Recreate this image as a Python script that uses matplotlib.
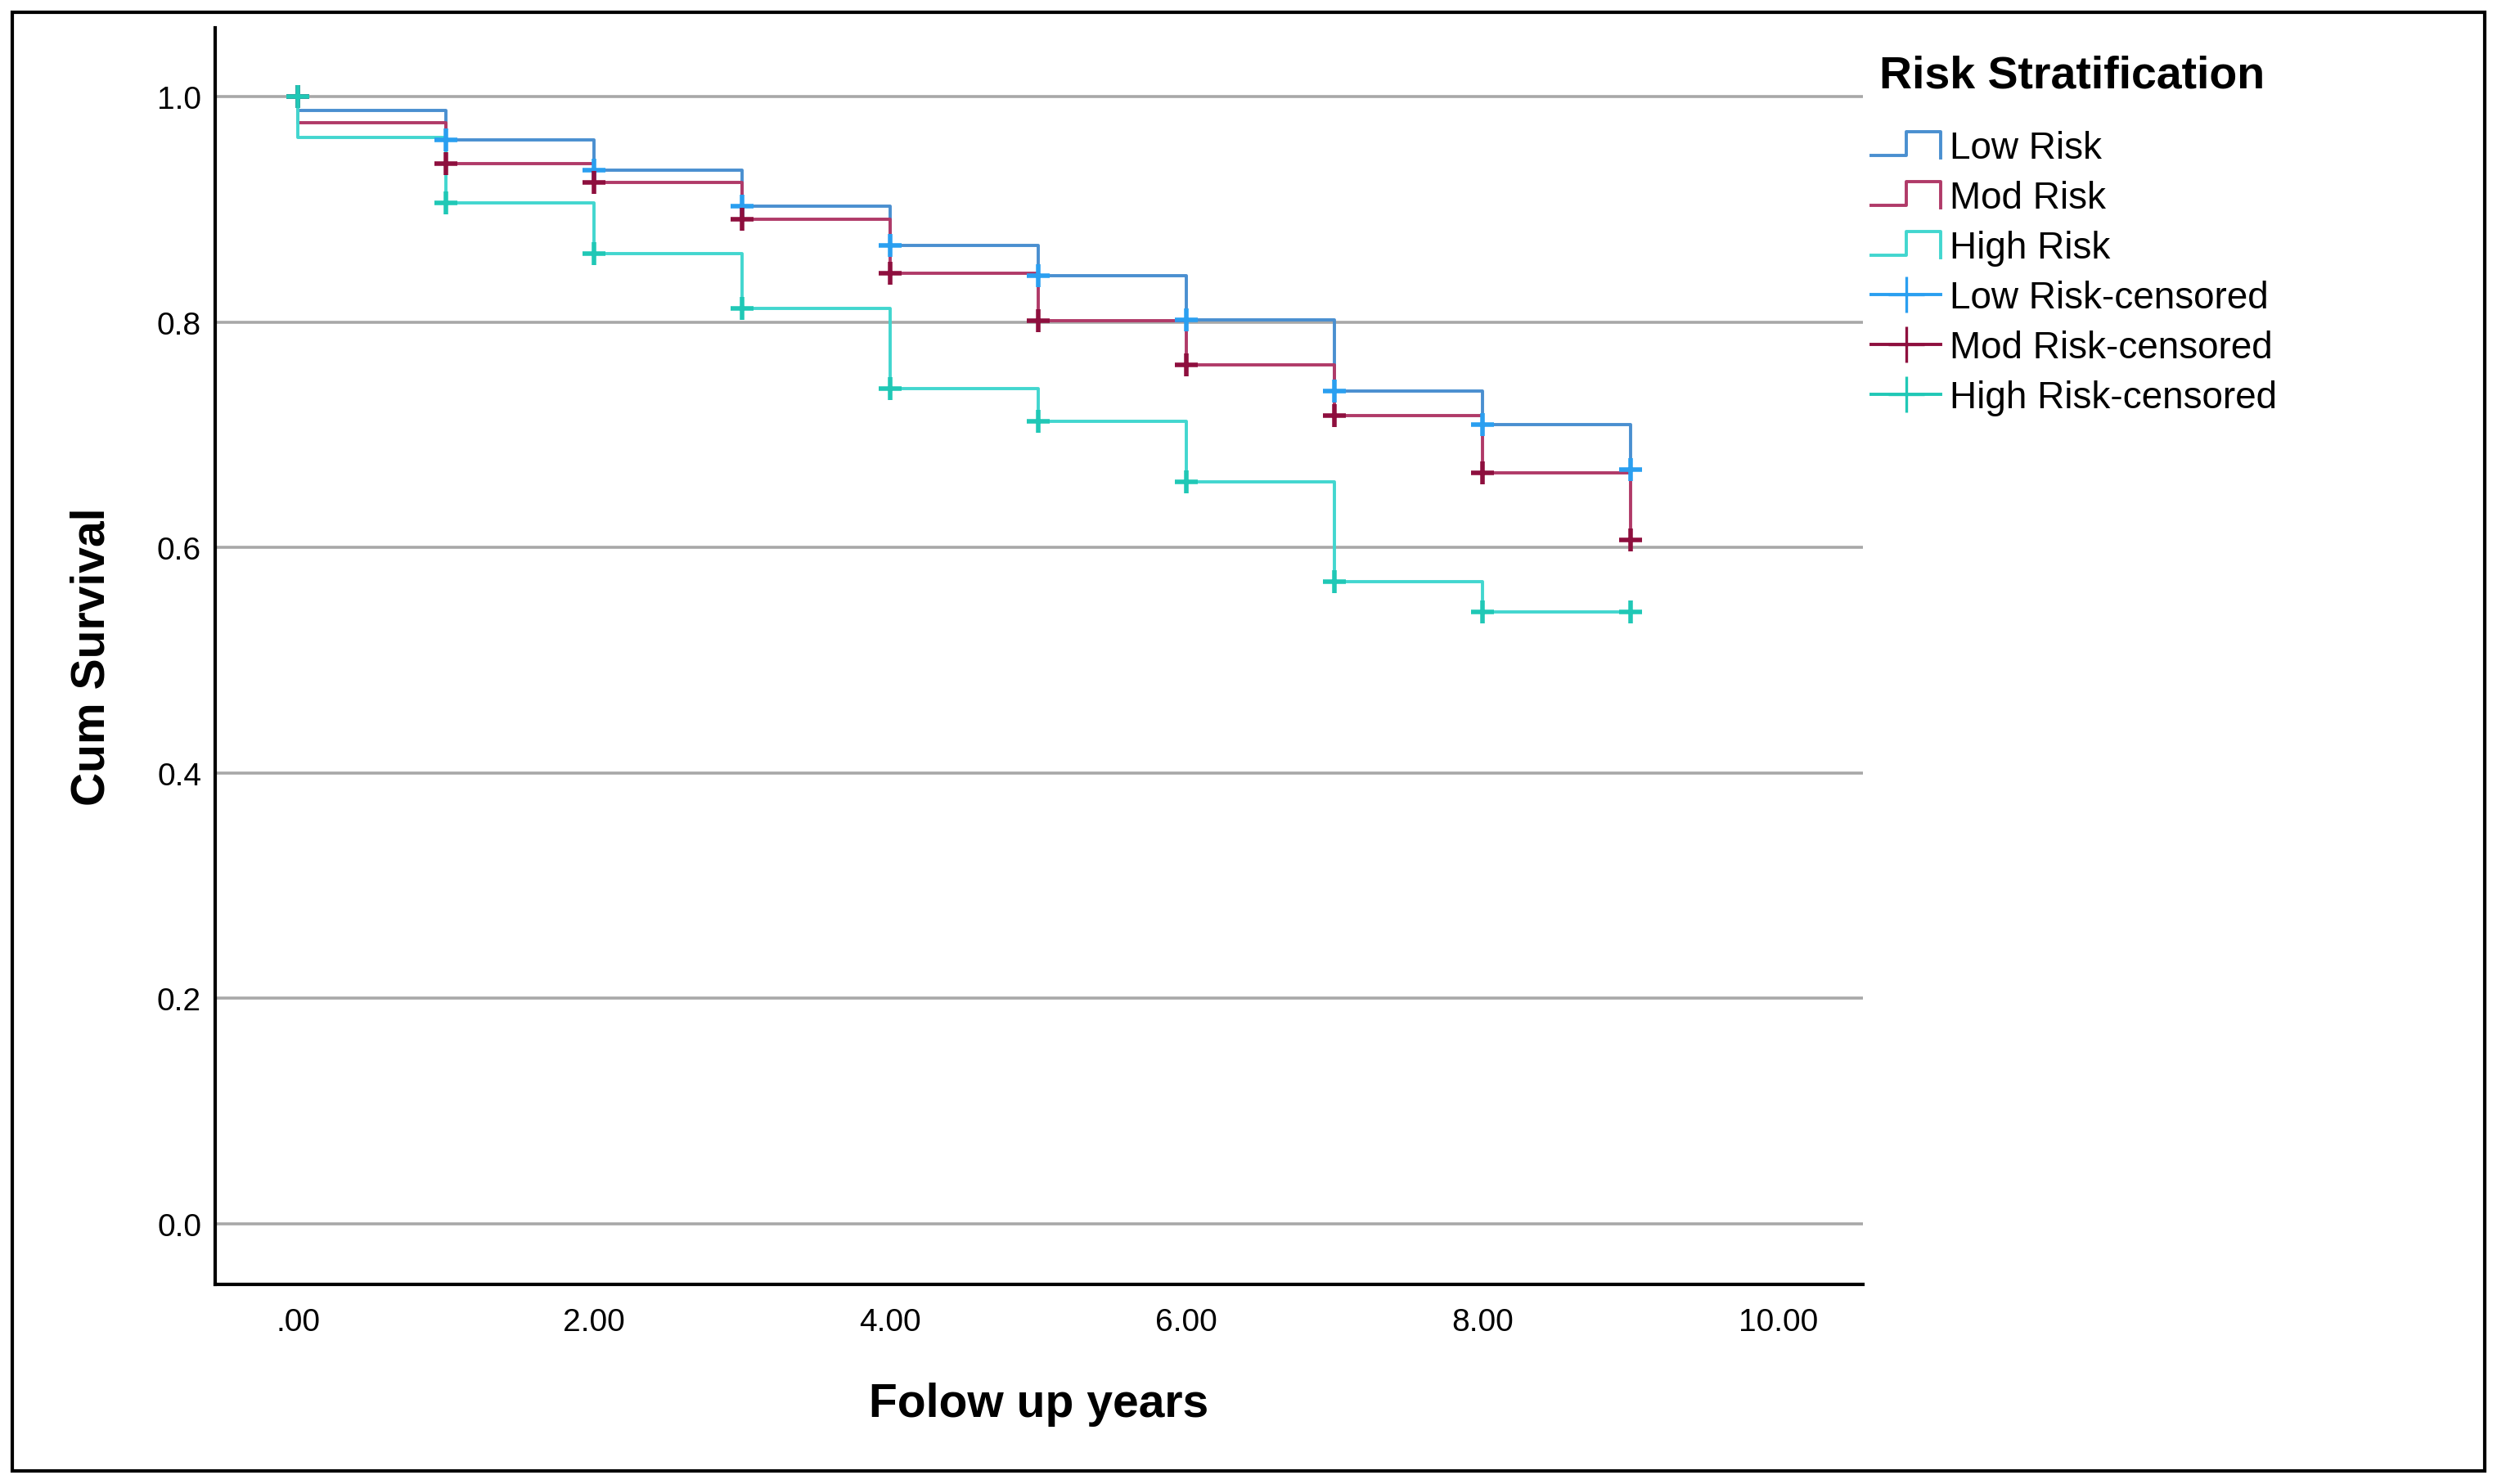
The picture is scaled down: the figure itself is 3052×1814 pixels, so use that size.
"""Kaplan-Meier style survival curves by risk group"""

import matplotlib
matplotlib.use("Agg")
import matplotlib.pyplot as plt
from matplotlib.lines import Line2D
from matplotlib.patches import Rectangle
from matplotlib.legend_handler import HandlerBase


# follow-up times (years) and cumulative survival after each step
times = [0, 1, 2, 3, 4, 5, 6, 7, 8, 9]
low_risk = [0.988, 0.962, 0.935, 0.903, 0.868, 0.841, 0.802, 0.739, 0.709, 0.669]
mod_risk = [0.977, 0.941, 0.924, 0.891, 0.843, 0.801, 0.762, 0.717, 0.666, 0.607]
high_risk = [0.964, 0.906, 0.861, 0.812, 0.741, 0.712, 0.658, 0.570, 0.543, 0.543]

# censored observations (time, survival)
cens_times = [0, 1, 2, 3, 4, 5, 6, 7, 8, 9]
low_cens = [1.0, 0.962, 0.935, 0.903, 0.868, 0.841, 0.802, 0.739, 0.709, 0.669]
mod_cens = [1.0, 0.941, 0.924, 0.891, 0.843, 0.801, 0.762, 0.717, 0.666, 0.607]
high_cens = [1.0, 0.906, 0.861, 0.812, 0.741, 0.712, 0.658, 0.570, 0.543, 0.543]

group_names = ["Low Risk", "Mod Risk", "High Risk"]
x_ticks = [0, 2, 4, 6, 8, 10]
x_tick_labels = [".00", "2.00", "4.00", "6.00", "8.00", "10.00"]
y_ticks = [0.0, 0.2, 0.4, 0.6, 0.8, 1.0]
y_tick_labels = ["0.0", "0.2", "0.4", "0.6", "0.8", "1.0"]

line_colors = ["#4a8fd0", "#b03a68", "#42d6cf"]
mark_colors = ["#2a9ff0", "#8e0f3e", "#20c8b6"]

plt.rcParams["font.family"] = ["Liberation Sans", "DejaVu Sans"]


class HandlerStep(HandlerBase):
    """little step-shaped legend key like SPSS uses"""

    def create_artists(self, legend, orig_handle, xdescent, ydescent,
                       width, height, fontsize, trans):
        xs = [0, 0.5 * width, 0.5 * width, width, width]
        ys = [0.1 * height, 0.1 * height, 1.0 * height, 1.0 * height, 0.0 * height]
        line = Line2D([x - xdescent for x in xs], [y - ydescent for y in ys],
                      color=orig_handle.get_color(), lw=1.4)
        line.set_transform(trans)
        return [line]


fig = plt.figure(figsize=(15.26, 9.075), dpi=200)
ax = fig.add_axes([0.0861, 0.1344, 0.66, 0.8462])

curves = [low_risk, mod_risk, high_risk]
censored = [low_cens, mod_cens, high_cens]
step_handles = []
cens_handles = []
for name, vals, cens, lc, mc in zip(group_names, curves, censored, line_colors, mark_colors):
    ax.plot([0] + times, [1.0] + vals, drawstyle="steps-post",
            color=lc, lw=1.4, zorder=3)
    ax.plot(cens_times, cens, linestyle="none", marker="+", markersize=10,
            markeredgewidth=2.0, color=mc, zorder=4)
    step_handles.append(Line2D([], [], color=lc, label=name))
    cens_handles.append(Line2D([], [], color=mc, lw=1.4, marker="+", markersize=16,
                               markeredgewidth=1.2, label=name + "-censored"))

ax.set_xlim(-0.56, 10.57)
ax.set_ylim(-0.054, 1.061)
ax.set_xticks(x_ticks)
ax.set_xticklabels(x_tick_labels)
ax.set_yticks(y_ticks)
ax.set_yticklabels(y_tick_labels)
ax.tick_params(length=0, labelsize=14)
ax.tick_params(axis="x", pad=10)
ax.tick_params(axis="y", pad=6)
ax.yaxis.grid(True, color="#a8a8a8", lw=1.3)
ax.set_axisbelow(True)
for side in ["top", "right"]:
    ax.spines[side].set_visible(False)
for side in ["left", "bottom"]:
    ax.spines[side].set_linewidth(1.5)

ax.set_xlabel("Folow up years", fontsize=20.5, fontweight="bold", labelpad=20)
ax.set_ylabel("Cum Survival", fontsize=20.5, fontweight="bold", labelpad=19)

# legend title as its own text so the gap under it matches
fig.text(0.7526, 0.9484, "Risk Stratification", fontsize=20, fontweight="bold",
         ha="left", va="center")

handles = step_handles + cens_handles
handler_map = {h: HandlerStep() for h in step_handles}
leg = fig.legend(handles=handles, handler_map=handler_map, loc="upper left",
                 bbox_to_anchor=(0.7434, 0.922), borderaxespad=0, frameon=False,
                 fontsize=16.5, handlelength=1.85, handletextpad=0.25,
                 labelspacing=0.37)

# outer frame around the whole picture
fig.patches.append(Rectangle((0.005, 0.009), 0.99, 0.982, transform=fig.transFigure,
                             fill=False, edgecolor="black", lw=1.5))

fig.savefig("out.png", dpi=200)
